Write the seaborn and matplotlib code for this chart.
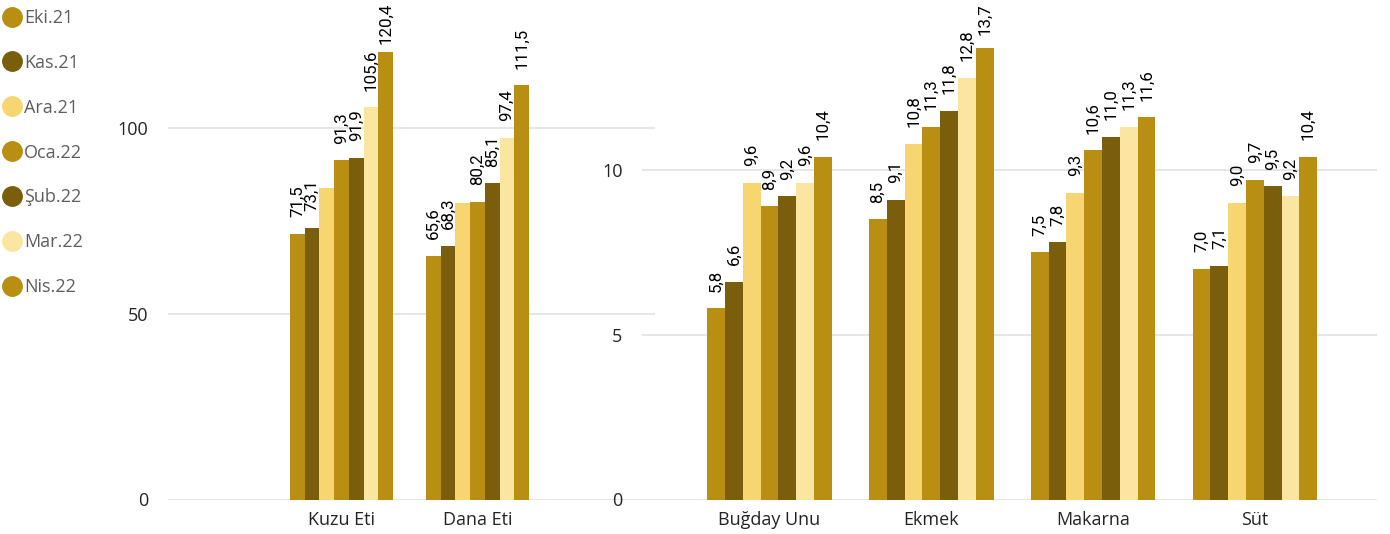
import matplotlib
matplotlib.use("Agg")
import matplotlib.pyplot as plt
from matplotlib.lines import Line2D
import seaborn as sns
import pandas as pd

# ---- data ----
months = ["Eki.21", "Kas.21", "Ara.21", "Oca.22", "Şub.22", "Mar.22", "Nis.22"]
colors = ["#B88F12", "#7A5E0C", "#F7D672", "#B88F12", "#7A5E0C", "#FAE5A1", "#B88F12"]

meat_categories = ["Kuzu Eti", "Dana Eti"]
kuzu_eti = [71.5, 73.1, 83.9, 91.3, 91.9, 105.6, 120.4]
dana_eti = [65.6, 68.3, 79.8, 80.2, 85.1, 97.4, 111.5]
meat_hidden_labels = ["Ara.21"]

staple_categories = ["Buğday Unu", "Ekmek", "Makarna", "Süt"]
bugday_unu = [5.8, 6.6, 9.6, 8.9, 9.2, 9.6, 10.4]
ekmek = [8.5, 9.1, 10.8, 11.3, 11.8, 12.8, 13.7]
makarna = [7.5, 7.8, 9.3, 10.6, 11.0, 11.3, 11.6]
sut = [7.0, 7.1, 9.0, 9.7, 9.5, 9.2, 10.4]

left_ticks = [0, 50, 100]
right_ticks = [0, 5, 10]


def long_df(categories, series):
    rows = []
    for cat, vals in zip(categories, series):
        for m, v in zip(months, vals):
            rows.append({"cat": cat, "month": m, "value": v})
    return pd.DataFrame(rows)


df_left = long_df(meat_categories, [kuzu_eti, dana_eti])
df_right = long_df(staple_categories, [bugday_unu, ekmek, makarna, sut])

sns.set_theme(style="white")
plt.rcParams["font.family"] = ["Open Sans", "DejaVu Sans"]

W, H = 1390, 534
fig = plt.figure(figsize=(W / 100, H / 100), dpi=100)

ax_l = fig.add_axes([168 / W, 34.5 / H, 487 / W, 490 / H])
ax_r = fig.add_axes([642 / W, 34.5 / H, 735 / W, 490 / H])

palette = dict(zip(months, colors))
annotations = []

for ax, df, cats, width, ylim, xlim, ticks, hidden in [
    (ax_l, df_left, meat_categories, 0.757, 131.9, (-1.276, 2.305), left_ticks, meat_hidden_labels),
    (ax_r, df_right, staple_categories, 0.77, 14.87, (-0.788, 3.754), right_ticks, []),
]:
    sns.barplot(data=df, x="cat", y="value", hue="month", hue_order=months,
                order=cats, palette=palette, width=width, saturation=1,
                legend=False, ax=ax, errorbar=None, linewidth=0, edgecolor="none")
    ax.set_ylim(0, ylim)
    ax.set_xlim(*xlim)
    ax.set_yticks(ticks)
    ax.set_yticklabels([str(t) for t in ticks])
    ax.set_xlabel("")
    ax.set_ylabel("")
    ax.grid(axis="y", color="#E6E6E6", linewidth=1.4)
    ax.grid(axis="x", visible=False)
    ax.set_axisbelow(True)
    for s in ax.spines.values():
        s.set_visible(False)
    ax.tick_params(axis="both", length=0, colors="#252423", labelsize=13)
    ax.tick_params(axis="y", pad=14)
    ax.tick_params(axis="x", pad=8)
    ax.patch.set_alpha(0)
    for m, cont in zip(months, ax.containers):
        if m in hidden:
            continue
        labels = [f"{b.get_height():.1f}".replace(".", ",") for b in cont]
        anns = ax.bar_label(cont, labels=labels, padding=12, rotation=90,
                            fontsize=12.2, color="#000000", family="Roboto",
                            clip_on=False)
        annotations.extend(anns)

# legend
handles = [Line2D([0], [0], marker="o", linestyle="", markersize=14,
                  markerfacecolor=c, markeredgecolor=c) for c in colors]
leg = fig.legend(handles, months, loc="upper left", bbox_to_anchor=(-0.004, 0.997),
                 frameon=False, fontsize=13, labelspacing=1.49, handletextpad=0.05,
                 handlelength=1.2, borderaxespad=0)
for t in leg.get_texts():
    t.set_color("#605E5C")

# keep labels inside the figure
fig.canvas.draw()
renderer = fig.canvas.get_renderer()
for ann in annotations:
    bb = ann.get_window_extent(renderer)
    limit = H - 3
    if bb.y1 > limit:
        dx, dy = ann.xyann
        ann.xyann = (dx, dy - (bb.y1 - limit) * 72 / 100)

fig.savefig("out.png", dpi=100)
